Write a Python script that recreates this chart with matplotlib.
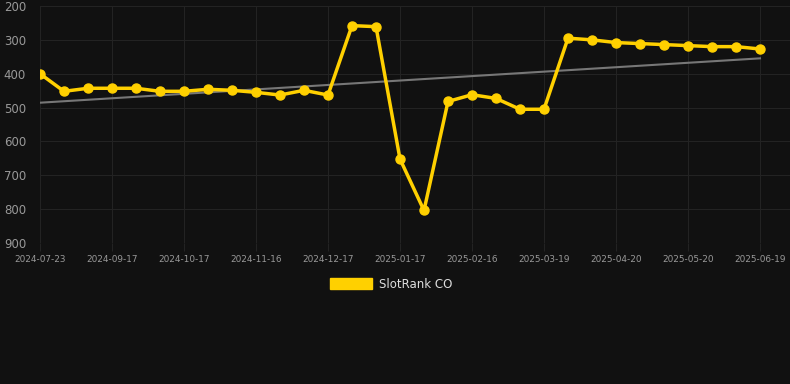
import numpy as np
import matplotlib
matplotlib.use("Agg")
import matplotlib.pyplot as plt

dates = ["2024-07-23", "2024-08-11", "2024-08-30", "2024-09-17", "2024-09-27",
         "2024-10-07", "2024-10-17", "2024-10-27", "2024-11-06", "2024-11-16",
         "2024-11-26", "2024-12-07", "2024-12-17", "2024-12-27", "2025-01-06",
         "2025-01-17", "2025-01-27", "2025-02-06", "2025-02-16", "2025-02-26",
         "2025-03-09", "2025-03-19", "2025-03-30", "2025-04-09", "2025-04-20",
         "2025-04-30", "2025-05-10", "2025-05-20", "2025-05-30", "2025-06-09",
         "2025-06-19"]
rank = [400, 452, 443, 443, 443, 452, 452, 446, 449, 455,
        463, 449, 463, 258, 261, 652, 804, 482, 462, 473,
        505, 505, 295, 300, 308, 311, 314, 317, 320, 320,
        327]
yticks = [200, 300, 400, 500, 600, 700, 800, 900]

bg = "#111111"
x = np.arange(len(rank))

fig = plt.figure(figsize=(7.9, 3.84), dpi=100, facecolor=bg)
ax = fig.add_axes([40 / 790, 141 / 384, 750 / 790, 237 / 384])
ax.set_facecolor(bg)

# trend line (linear fit)
k, b = np.polyfit(x, rank, 1)
ax.plot(x, k * x + b, color="#777777", lw=1.5, zorder=2)

ax.plot(x, rank, color="#FFD000", lw=2.5, marker="o", markersize=6.5,
        zorder=3, label="SlotRank CO")

ax.set_ylim(900, 200)
ax.set_xlim(0, 31.25)
ax.set_yticks(yticks)
ax.set_xticks(x[::3])
ax.set_xticklabels(dates[::3])

ax.grid(True, color="#232323", lw=0.8)
for s in ax.spines.values():
    s.set_visible(False)
ax.tick_params(axis="y", length=0, colors="#999999", labelsize=8.5, pad=10)
ax.tick_params(axis="x", length=6, color="#232323", labelcolor="#999999",
               labelsize=6.4, pad=3)

leg = fig.legend(handles=[plt.Rectangle((0, 0), 1, 1, color="#FFD000")],
                 labels=["SlotRank CO"], loc="center", bbox_to_anchor=(391 / 790, 1 - 284 / 384),
                 frameon=False, handlelength=3.6, handleheight=1.1, fontsize=8.5,
                 labelcolor="#dddddd", handletextpad=0.6)

fig.savefig("out.png", dpi=100, facecolor=bg)
